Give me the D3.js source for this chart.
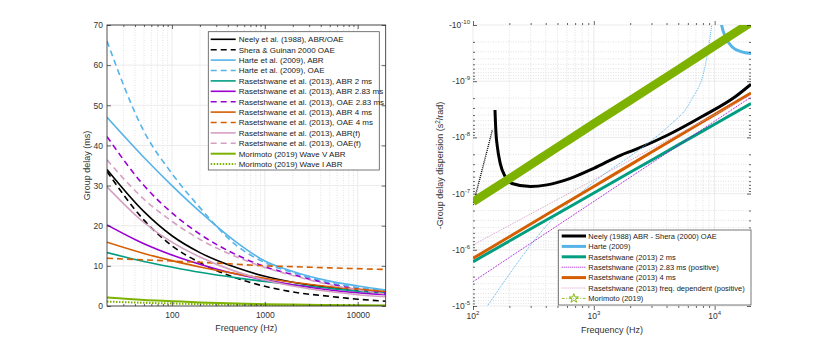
<!DOCTYPE html>
<html>
<head>
<meta charset="utf-8">
<script src="https://cdnjs.cloudflare.com/ajax/libs/d3/7.8.5/d3.min.js"></script>
<style>
  body { margin: 0; background: #fff; }
  svg { font-family: "Liberation Sans", Arial, Helvetica, sans-serif; }
</style>
</head>
<body>
<svg id="canvas" width="830" height="344"></svg>
<script>
/************* Data: group delay (ms) **************/
var gdFreq    = [20, 50, 100, 200, 500, 1000, 2000, 5000, 10000, 20000];
var neelyAbr  = [34.0, 23.5, 17.5, 13.3, 9.5, 7.4, 5.9, 4.6, 3.9, 3.4];
var sheraOae  = [33.5, 21.4, 15.0, 10.8, 6.9, 4.9, 3.5, 2.4, 1.7, 1.2];
var harteAbr  = [47.0, 37.0, 30.0, 23.5, 15.8, 11.2, 8.6, 6.2, 5.0, 4.0];
var harteOae  = [66.0, 43.5, 33.0, 24.5, 15.0, 10.8, 8.3, 5.8, 4.6, 3.8];
var ras2Abr   = [13.3, 11.1, 9.7, 8.4, 7.0, 6.1, 5.3, 4.4, 3.7, 3.2];
var ras283Abr = [20.2, 15.5, 12.7, 10.4, 7.9, 6.5, 5.3, 4.0, 3.3, 2.8];
var ras283Oae = [42.2, 30.0, 23.2, 17.9, 12.7, 9.8, 7.8, 5.5, 4.2, 3.3];
var ras4Abr   = [15.9, 13.1, 11.3, 9.7, 8.0, 6.9, 5.9, 4.8, 4.2, 3.6];
var ras4Oae   = [11.9, 11.5, 11.2, 10.9, 10.4, 10.0, 9.8, 9.5, 9.3, 9.1];
var rasFAbr   = [29.7, 20.8, 15.9, 12.2, 8.5, 6.5, 5.0, 3.6, 2.8, 2.3];
var rasFOae   = [36.4, 26.6, 21.1, 16.6, 12.2, 9.6, 7.6, 5.3, 4.0, 3.0];
var moriV     = [2.1, 1.5, 1.2, 0.9, 0.6, 0.45, 0.35, 0.25, 0.18, 0.13];
var moriI     = [1.1, 0.8, 0.62, 0.47, 0.32, 0.24, 0.17, 0.11, 0.08, 0.06];

/************* Data: -group delay dispersion (s^2/rad) **************/
var gddFreq   = [100, 200, 500, 1000, 2000, 5000, 10000, 20000];
var ras2Gdd   = [1.63e-6, 6.98e-7, 2.28e-7, 9.75e-8, 4.18e-8, 1.36e-8, 5.83e-9, 2.5e-9];
var ras283Gdd = [3.7e-6, 1.37e-6, 3.71e-7, 1.38e-7, 5.13e-8, 1.39e-8, 5.15e-9, 1.91e-9];
var ras4Gdd   = [1.42e-6, 5.84e-7, 1.81e-7, 7.46e-8, 3.08e-8, 9.53e-9, 3.93e-9, 1.62e-9];
var rasFGdd   = [8.2e-7, 3.68e-7, 1.27e-7, 5.69e-8, 2.55e-8, 8.79e-9, 3.94e-9, 1.76e-9];
var moriGdd   = [1.4e-7, 5.4e-8, 1.5e-8, 5.7e-9, 2.2e-9, 6.2e-10, 2.35e-10, 9.0e-11];

var neelyNegFreq = [152, 155, 159, 168, 185, 210, 300, 410, 640, 1000, 1680, 2170, 4100, 7800, 14800, 20000];
var neelyNegGdd  = [3.25e-9, 8.45e-9, 1.46e-8, 2.9e-8, 5.0e-8, 6.6e-8, 7.5e-8, 7.0e-8, 5.35e-8, 3.55e-8, 2.06e-8, 1.67e-8, 9.06e-9, 4.29e-9, 1.89e-9, 1.13e-9];
var neelyPosFreq = [100, 105, 115, 125, 135, 145];
var neelyPosGdd  = [1.6e-7, 1.06e-7, 5.0e-8, 2.5e-8, 1.32e-8, 7.2e-9];
var hartePosFreq = [125, 139, 411, 1143, 2165, 2795, 4114, 6412, 8326, 9455, 9800];
var hartePosGdd  = [1.17e-5, 8.4e-6, 3.62e-7, 5.0e-8, 1.92e-8, 1.27e-8, 6.46e-9, 2.16e-9, 5.5e-10, 1e-10, 5e-11];
var harteNegFreq = [11000, 11420, 12220, 13890, 16770, 20000];
var harteNegGdd  = [6e-11, 1e-10, 1.6e-10, 2.43e-10, 3.0e-10, 3.2e-10];

var leftXTicks  = [100, 1000, 10000];
var leftYTicks  = [0, 10, 20, 30, 40, 50, 60, 70];
var rightXTicks = [100, 1000, 10000];
var rightYTicks = [1e-10, 1e-9, 1e-8, 1e-7, 1e-6, 1e-5];

/********** Initialisation *********/
var svg = d3.select("#canvas");
var axisColor = "#262626";

var xL = d3.scaleLog().domain([20, 20000]).range([107, 385.7]);
var yL = d3.scaleLinear().domain([0, 70]).range([306, 25]);
var xR = d3.scaleLog().domain([100, 20000]).range([473, 751]);
var yR = d3.scaleLog().domain([1e-10, 1e-5]).range([25, 306]);

function minorLog(lo, hi) {
    var out = [];
    for (var p = Math.floor(Math.log10(lo)); p <= Math.ceil(Math.log10(hi)); p++) {
        for (var m = 2; m <= 9; m++) {
            var v = m * Math.pow(10, p);
            if (v > lo && v < hi) out.push(v);
        }
    }
    return out;
}

/********** Grids ***********/
function gridV(x, y, vals, minor) {
    svg.append("g").selectAll("line").data(vals).enter().append("line")
        .attr("x1", function(d) { return x(d); }).attr("x2", function(d) { return x(d); })
        .attr("y1", y.range()[0]).attr("y2", y.range()[1])
        .attr("stroke", minor ? "#d6d6d6" : "#e3e3e3")
        .attr("stroke-width", 0.7)
        .attr("stroke-dasharray", minor ? "1,1.5" : null);
}
function gridH(x, y, vals, minor) {
    svg.append("g").selectAll("line").data(vals).enter().append("line")
        .attr("y1", function(d) { return y(d); }).attr("y2", function(d) { return y(d); })
        .attr("x1", x.range()[0]).attr("x2", x.range()[1])
        .attr("stroke", minor ? "#d6d6d6" : "#e3e3e3")
        .attr("stroke-width", 0.7)
        .attr("stroke-dasharray", minor ? "1,1.5" : null);
}

gridV(xL, yL, minorLog(20, 20000), true);
gridV(xL, yL, leftXTicks, false);
gridH(xL, yL, leftYTicks, false);

gridV(xR, yR, minorLog(100, 20000), true);
gridH(xR, yR, minorLog(1e-10, 1e-5), true);
gridV(xR, yR, rightXTicks, false);
gridH(xR, yR, rightYTicks, false);

/********** Clip paths ***********/
var defs = svg.append("defs");
defs.append("clipPath").attr("id", "clipL").append("rect")
    .attr("x", 107).attr("y", 25).attr("width", 385.7 - 107).attr("height", 281);
defs.append("clipPath").attr("id", "clipR").append("rect")
    .attr("x", 473).attr("y", 25).attr("width", 751 - 473).attr("height", 281);

/********** Left panel lines ***********/
var leftSeries = [
    {name: "Neely et al. (1988), ABR/OAE", vals: neelyAbr, color: "#000000", dash: null},
    {name: "Shera & Guinan 2000 OAE", vals: sheraOae, color: "#000000", dash: "6,4"},
    {name: "Harte et al. (2009), ABR", vals: harteAbr, color: "#56B4E9", dash: null},
    {name: "Harte et al. (2009), OAE", vals: harteOae, color: "#56B4E9", dash: "6,4"},
    {name: "Rasetshwane et al. (2013), ABR 2 ms", vals: ras2Abr, color: "#009E80", dash: null},
    {name: "Rasetshwane et al. (2013), ABR 2.83 ms", vals: ras283Abr, color: "#9B00D3", dash: null},
    {name: "Rasetshwane et al. (2013), OAE 2.83 ms", vals: ras283Oae, color: "#9B00D3", dash: "6,4"},
    {name: "Rasetshwane et al. (2013), ABR 4 ms", vals: ras4Abr, color: "#D55E00", dash: null},
    {name: "Rasetshwane et al. (2013), OAE 4 ms", vals: ras4Oae, color: "#D55E00", dash: "6,4"},
    {name: "Rasetshwane et al. (2013), ABR(f)", vals: rasFAbr, color: "#D4A0C2", dash: null},
    {name: "Rasetshwane et al. (2013), OAE(f)", vals: rasFOae, color: "#D4A0C2", dash: "6,4"},
    {name: "Morimoto (2019) Wave V ABR", vals: moriV, color: "#7DB300", dash: null},
    {name: "Morimoto (2019) Wave I ABR", vals: moriI, color: "#7DB300", dash: "1.5,1.5"}
];

var lineL = d3.line()
    .x(function(d) { return xL(d[0]); })
    .y(function(d) { return yL(d[1]); })
    .curve(d3.curveMonotoneX);

var gL = svg.append("g").attr("clip-path", "url(#clipL)");
leftSeries.forEach(function(s) {
    gL.append("path")
        .attr("d", lineL(d3.zip(gdFreq, s.vals)))
        .attr("fill", "none")
        .attr("stroke", s.color)
        .attr("stroke-width", s.color === "#7DB300" ? 2 : 1.6)
        .attr("stroke-dasharray", s.dash);
});

/********** Right panel lines ***********/
var lineR = d3.line()
    .x(function(d) { return xR(d[0]); })
    .y(function(d) { return yR(d[1]); })
    .curve(d3.curveMonotoneX);

var rightSeries = [
    {name: null, f: neelyPosFreq, vals: neelyPosGdd, color: "#000000", width: 1.4, dash: "1,1"},
    {name: "Neely (1988) ABR - Shera (2000) OAE", f: neelyNegFreq, vals: neelyNegGdd, color: "#000000", width: 3, dash: null},
    {name: null, f: hartePosFreq, vals: hartePosGdd, color: "#56B4E9", width: 1, dash: "1,1"},
    {name: "Harte (2009)", f: harteNegFreq, vals: harteNegGdd, color: "#56B4E9", width: 3, dash: null},
    {name: "Rasetshwane (2013) 2 ms", f: gddFreq, vals: ras2Gdd, color: "#009E80", width: 3, dash: null},
    {name: "Rasetshwane (2013) 2.83 ms (positive)", f: gddFreq, vals: ras283Gdd, color: "#9B00D3", width: 1, dash: "1,1"},
    {name: "Rasetshwane (2013) 4 ms", f: gddFreq, vals: ras4Gdd, color: "#D55E00", width: 3, dash: null},
    {name: "Rasetshwane (2013) freq. dependent (positive)", f: gddFreq, vals: rasFGdd, color: "#D4A0C2", width: 1, dash: "1,1"},
    {name: "Morimoto (2019)", f: gddFreq, vals: moriGdd, color: "#7DB300", width: 8.5, dash: null, star: true}
];

var gR = svg.append("g").attr("clip-path", "url(#clipR)");
rightSeries.forEach(function(s) {
    gR.append("path")
        .attr("d", lineR(d3.zip(s.f, s.vals)))
        .attr("fill", "none")
        .attr("stroke", s.color)
        .attr("stroke-width", s.width)
        .attr("stroke-dasharray", s.dash);
});

/********** Axes ***********/
function styleAxis(g) {
    g.select(".domain").remove();
    g.selectAll("line").attr("stroke", axisColor).attr("stroke-width", 0.7);
    g.selectAll("text").attr("fill", "#333").attr("font-size", 8.5)
        .attr("font-family", "'Liberation Sans', Arial, sans-serif");
}

function axesBox(x, y, xMajor, xMinor, yMajor, yMinor, xFmt, yFmt, yPad) {
    var x0 = x.range()[0], x1 = x.range()[1], y0 = y.range()[0], y1 = y.range()[1];
    // bottom / top
    svg.append("g").attr("transform", "translate(0," + y0 + ")")
        .call(d3.axisBottom(x).tickValues(xMajor).tickFormat(xFmt).tickSizeInner(-4).tickSizeOuter(0).tickPadding(6))
        .call(styleAxis);
    svg.append("g").attr("transform", "translate(0," + y1 + ")")
        .call(d3.axisTop(x).tickValues(xMajor).tickFormat("").tickSizeInner(-4).tickSizeOuter(0))
        .call(styleAxis);
    svg.append("g").attr("transform", "translate(0," + y0 + ")")
        .call(d3.axisBottom(x).tickValues(xMinor).tickFormat("").tickSizeInner(-2).tickSizeOuter(0))
        .call(styleAxis);
    svg.append("g").attr("transform", "translate(0," + y1 + ")")
        .call(d3.axisTop(x).tickValues(xMinor).tickFormat("").tickSizeInner(-2).tickSizeOuter(0))
        .call(styleAxis);
    // left / right
    svg.append("g").attr("transform", "translate(" + x0 + ",0)")
        .call(d3.axisLeft(y).tickValues(yMajor).tickFormat(yFmt).tickSizeInner(-4).tickSizeOuter(0).tickPadding(yPad))
        .call(styleAxis);
    svg.append("g").attr("transform", "translate(" + x1 + ",0)")
        .call(d3.axisRight(y).tickValues(yMajor).tickFormat("").tickSizeInner(-4).tickSizeOuter(0))
        .call(styleAxis);
    if (yMinor.length) {
        svg.append("g").attr("transform", "translate(" + x0 + ",0)")
            .call(d3.axisLeft(y).tickValues(yMinor).tickFormat("").tickSizeInner(-2).tickSizeOuter(0))
            .call(styleAxis);
        svg.append("g").attr("transform", "translate(" + x1 + ",0)")
            .call(d3.axisRight(y).tickValues(yMinor).tickFormat("").tickSizeInner(-2).tickSizeOuter(0))
            .call(styleAxis);
    }
    svg.append("rect")
        .attr("x", x0).attr("y", y1).attr("width", x1 - x0).attr("height", y0 - y1)
        .attr("fill", "none").attr("stroke", axisColor).attr("stroke-width", 0.8);
}

axesBox(xL, yL, leftXTicks, minorLog(20, 20000), leftYTicks, [], d3.format("d"), d3.format("d"), 4);
axesBox(xR, yR, rightXTicks, minorLog(100, 20000), rightYTicks, minorLog(1e-10, 1e-5), function() { return ""; }, function() { return ""; }, 3);

// power-of-ten labels with superscripts on the right panel
svg.append("g").selectAll("text").data(rightXTicks).enter().append("text")
    .attr("x", function(d) { return xR(d); })
    .attr("y", 319)
    .attr("text-anchor", "middle")
    .attr("font-size", 8.5).attr("fill", "#333")
    .each(function(d) {
        var t = d3.select(this);
        t.append("tspan").text("10");
        t.append("tspan").attr("dy", -4).attr("font-size", 6).text(Math.round(Math.log10(d)));
    });

svg.append("g").selectAll("text").data(rightYTicks).enter().append("text")
    .attr("x", 470)
    .attr("y", function(d) { return yR(d) + 3; })
    .attr("text-anchor", "end")
    .attr("font-size", 8.5).attr("fill", "#333")
    .each(function(d) {
        var t = d3.select(this);
        t.append("tspan").text("-10");
        t.append("tspan").attr("dy", -4).attr("font-size", 6).text(Math.round(Math.log10(d)));
    });

/********** Axis labels ***********/
svg.append("text").attr("x", 246.3).attr("y", 331).attr("text-anchor", "middle")
    .attr("font-size", 9).attr("fill", "#333").text("Frequency (Hz)");
svg.append("text").attr("x", 612).attr("y", 333).attr("text-anchor", "middle")
    .attr("font-size", 9).attr("fill", "#333").text("Frequency (Hz)");
svg.append("text").attr("transform", "translate(90,165.5) rotate(-90)").attr("text-anchor", "middle")
    .attr("font-size", 9).attr("fill", "#333").text("Group delay (ms)");
var yLabR = svg.append("text").attr("transform", "translate(443,165.5) rotate(-90)").attr("text-anchor", "middle")
    .attr("font-size", 9).attr("fill", "#333");
yLabR.append("tspan").text("-Group delay dispersion (s");
yLabR.append("tspan").attr("dy", -3).attr("font-size", 6.5).text("2");
yLabR.append("tspan").attr("dy", 3).text("/rad)");

/********** Legends ***********/
var legL = svg.append("g");
legL.append("rect").attr("x", 208.3).attr("y", 31.7).attr("width", 171).attr("height", 138.3)
    .attr("fill", "#fff").attr("stroke", "#555").attr("stroke-width", 0.8);
leftSeries.forEach(function(s, i) {
    var yy = 39.3 + i * 10.4;
    legL.append("line").attr("x1", 210.7).attr("x2", 235.7).attr("y1", yy).attr("y2", yy)
        .attr("stroke", s.color).attr("stroke-width", s.color === "#7DB300" ? 2 : 1.6)
        .attr("stroke-dasharray", s.dash);
    legL.append("text").attr("x", 238.7).attr("y", yy + 2.8)
        .attr("font-size", 8).attr("fill", "#222").text(s.name);
});

var legR = svg.append("g");
legR.append("rect").attr("x", 558.3).attr("y", 230).attr("width", 192.7).attr("height", 75)
    .attr("fill", "#fff").attr("stroke", "#555").attr("stroke-width", 0.8);
rightSeries.filter(function(s) { return s.name; }).forEach(function(s, i) {
    var yy = 236 + i * 10.4;
    legR.append("line").attr("x1", 561.7).attr("x2", 586).attr("y1", yy).attr("y2", yy)
        .attr("stroke", s.color).attr("stroke-width", s.star ? 0.8 : s.width)
        .attr("stroke-dasharray", s.star ? "3,1.5,1,1.5" : s.dash);
    if (s.star) {
        legR.append("path").attr("d", d3.symbol(d3.symbolStar, 26)())
            .attr("transform", "translate(573.8," + yy + ")")
            .attr("fill", "none").attr("stroke", s.color).attr("stroke-width", 0.9);
    }
    legR.append("text").attr("x", 588.3).attr("y", yy + 2.7)
        .attr("font-size", 7.5).attr("fill", "#222").text(s.name);
});
</script>
</body>
</html>
